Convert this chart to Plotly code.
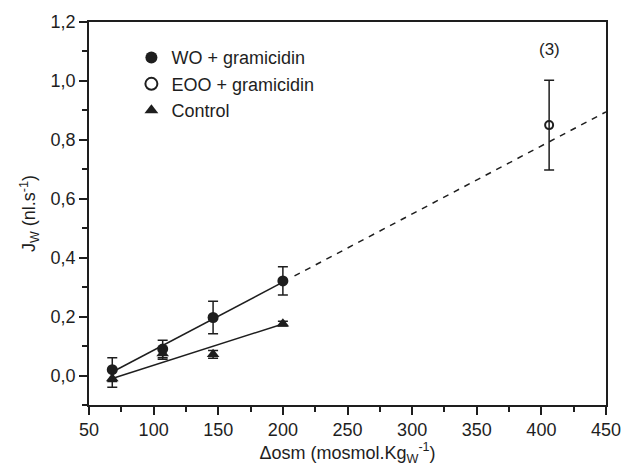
import plotly.graph_objects as go

# Data
wo_x = [68, 107, 146, 200]
wo_y = [0.02, 0.09, 0.197, 0.321]
wo_err = [0.04, 0.03, 0.055, 0.048]

eoo_x = [406]
eoo_y = [0.85]
eoo_err = [0.152]

ctrl_x = [68, 107, 146, 200]
ctrl_y = [-0.01, 0.075, 0.072, 0.176]
ctrl_err = [0.03, 0.02, 0.013, 0.008]

# fitted lines (endpoints)
wo_fit_x = [68, 200]
wo_fit_y = [0.012, 0.317]
wo_dash_x = [209, 450]
wo_dash_y = [0.338, 0.895]
ctrl_fit_x = [68, 200]
ctrl_fit_y = [-0.01, 0.175]

C = "#1e1e1e"
FONT = "Liberation Sans, Arial, sans-serif"

fig = go.Figure()
fig.add_trace(go.Scatter(x=wo_fit_x, y=wo_fit_y, mode="lines", line=dict(color=C, width=1.5), showlegend=False, hoverinfo="skip"))
fig.add_trace(go.Scatter(x=wo_dash_x, y=wo_dash_y, mode="lines", line=dict(color=C, width=1.5, dash="6px,6px"), showlegend=False, hoverinfo="skip"))
fig.add_trace(go.Scatter(x=ctrl_fit_x, y=ctrl_fit_y, mode="lines", line=dict(color=C, width=1.5), showlegend=False, hoverinfo="skip"))

fig.add_trace(go.Scatter(x=wo_x, y=wo_y, mode="markers", name="WO + gramicidin",
                         marker=dict(symbol="circle", size=11, color=C),
                         error_y=dict(type="data", array=wo_err, color=C, thickness=1.5, width=5)))
fig.add_trace(go.Scatter(x=eoo_x, y=eoo_y, mode="markers", name="EOO + gramicidin",
                         marker=dict(symbol="circle-open", size=8, color=C, line=dict(width=2, color=C)),
                         error_y=dict(type="data", array=eoo_err, color=C, thickness=1.5, width=5)))
fig.add_trace(go.Scatter(x=ctrl_x, y=ctrl_y, mode="markers", name="Control",
                         marker=dict(symbol="triangle-up", size=11, color=C),
                         error_y=dict(type="data", array=ctrl_err, color=C, thickness=1.5, width=5)))

fig.add_annotation(x=406, y=1.105, text="(3)", showarrow=False, font=dict(size=17, color=C, family=FONT))

axis_common = dict(showline=True, linecolor=C, linewidth=1.5, mirror=True, ticks="outside",
                   tickcolor=C, tickwidth=1.5, ticklen=8, showgrid=False, zeroline=False,
                   ticklabeloverflow="allow",
                   tickfont=dict(size=18, color=C, family=FONT))
fig.update_xaxes(range=[50, 450], tickvals=[50, 100, 150, 200, 250, 300, 350, 400, 450],
                 minor=dict(ticks="outside", ticklen=5, tickcolor=C, tickwidth=1.5, dtick=25, tick0=50),
                 title=dict(text="\u0394osm (mosmol.Kg<sub>W</sub><sup>-1</sup>)", font=dict(size=18, color=C, family=FONT), standoff=6),
                 **axis_common)
fig.update_yaxes(range=[-0.1, 1.2], tickvals=[0, 0.2, 0.4, 0.6, 0.8, 1.0, 1.2],
                 ticktext=["0,0", "0,2", "0,4", "0,6", "0,8", "1,0", "1,2"],
                 minor=dict(ticks="outside", ticklen=5, tickcolor=C, tickwidth=1.5, tickvals=[-0.1, 0.1, 0.3, 0.5, 0.7, 0.9, 1.1]),
                 title=dict(text="J<sub>W</sub> (nl.s<sup>-1</sup>)", font=dict(size=18, color=C, family=FONT), standoff=10),
                 **axis_common)

fig.update_layout(width=633, height=475, margin=dict(l=89, r=17, t=19, b=70),
                  plot_bgcolor="white", paper_bgcolor="white",
                  font=dict(family=FONT, color=C),
                  legend=dict(x=0.082, y=0.955, xanchor="left", yanchor="top", bgcolor="rgba(0,0,0,0)",
                              font=dict(size=18, color=C, family=FONT), itemsizing="constant", tracegroupgap=0))

fig.write_html("out.html")
